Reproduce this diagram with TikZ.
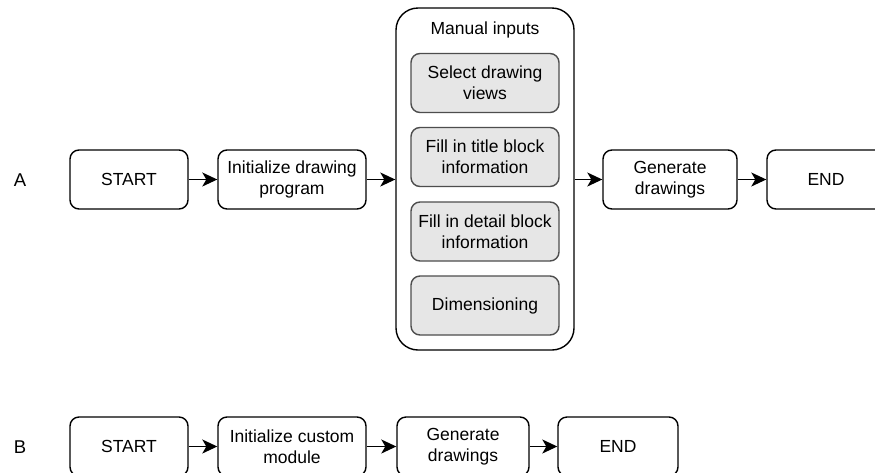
\documentclass[tikz,border=0pt]{standalone}
\usepackage{fontspec}
\setmainfont{Liberation Sans}
\usetikzlibrary{arrows.meta}
\definecolor{innerfill}{HTML}{E6E6E6}
\definecolor{innerline}{HTML}{4D4D4D}
\tikzset{
  stepbox/.style={draw=black, line width=1.4pt, rounded corners=9pt, fill=white,
    inner sep=0pt, align=center, minimum height=59pt,
    font=\fontsize{17.5}{21}\selectfont},
  subbox/.style={draw=innerline, line width=1.4pt, rounded corners=9pt, fill=innerfill,
    inner sep=0pt, align=center, minimum width=148pt, minimum height=59pt,
    font=\fontsize{17.5}{21}\selectfont},
  groupbox/.style={draw=black, line width=1.4pt, rounded corners=22pt, fill=white,
    inner sep=0pt, minimum width=178pt, minimum height=342pt},
  rowlabel/.style={font=\fontsize{18.5}{22}\selectfont, inner sep=0pt},
  flow/.style={line width=1.4pt, -{Stealth[length=15pt, width=14pt, inset=4pt]}},
}
\begin{document}
\begin{tikzpicture}[x=1pt, y=-1pt]
  \useasboundingbox (0,0) rectangle (875,472);

  % Row A: flow with manual inputs
  \node[rowlabel] (labA) at (20,180) {A};
  \node[stepbox, minimum width=118pt] (a1) at (129,179.5) {START};
  \node[stepbox, minimum width=148pt] (a2) at (292,179.5) {Initialize drawing\\program};
  \node[groupbox] (grp) at (485,179) {};
  \node[font=\fontsize{17.5}{21}\selectfont, inner sep=0pt] (grpt) at (485,30) {Manual inputs};
  \node[subbox] (m1) at (485,83) {Select drawing\\views};
  \node[subbox] (m2) at (485,157) {Fill in title block\\information};
  \node[subbox] (m3) at (485,231.5) {Fill in detail block\\information};
  \node[subbox] (m4) at (485,305.5) {Dimensioning};
  \node[stepbox, minimum width=134pt] (a3) at (670,179.5) {Generate\\drawings};
  \node[stepbox, minimum width=118pt] (a4) at (826,179.5) {END};

  \draw[flow] (a1) -- (a2);
  \draw[flow] (a2) -- (a2 -| grp.west);
  \draw[flow] (grp.east |- a3) -- (a3);
  \draw[flow] (a3) -- (a4);

  % Row B: automated flow
  \node[rowlabel] (labB) at (20,447) {B};
  \node[stepbox, minimum width=118pt] (b1) at (129,446.5) {START};
  \node[stepbox, minimum width=148pt] (b2) at (292,446.5) {Initialize custom\\module};
  \node[stepbox, minimum width=132pt] (b3) at (463,446.5) {Generate\\drawings};
  \node[stepbox, minimum width=120pt] (b4) at (618,446.5) {END};

  \draw[flow] (b1) -- (b2);
  \draw[flow] (b2) -- (b3);
  \draw[flow] (b3) -- (b4);
\end{tikzpicture}
\end{document}
